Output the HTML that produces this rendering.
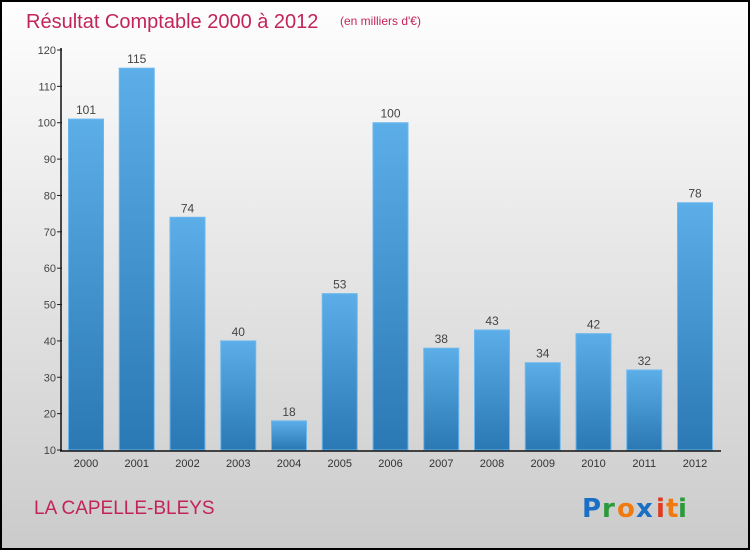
<!DOCTYPE html>
<html><head><meta charset="utf-8"><style>
body{margin:0}
#c{width:750px;height:550px;position:relative;box-sizing:border-box;border:2px solid #000;background:linear-gradient(#fefefe,#cbcbcb);font-family:"Liberation Sans",sans-serif;overflow:hidden}
svg{position:absolute;left:-2px;top:-2px}
</style></head><body>
<div id="c">
<svg width="750" height="550" id="s">
<defs><linearGradient id="g" x1="0" y1="0" x2="0" y2="1"><stop offset="0" stop-color="#5caee8"/><stop offset="1" stop-color="#2a78b4"/></linearGradient></defs>
<text x="26" y="28" font-size="20" fill="#c2245a">Résultat Comptable 2000 à 2012</text>
<text x="340" y="25" font-size="12" fill="#c2245a">(en milliers d'€)</text>
<text x="34" y="514" font-size="19" fill="#c2245a">LA CAPELLE-BLEYS</text>
<g font-size="26" font-weight="bold" font-family="'DejaVu Sans',sans-serif">
<text x="582" y="517" fill="#1a6fc4">P</text><text x="602" y="517" fill="#2a9a3a">r</text><text x="617" y="517" fill="#f07a10">o</text><text x="636" y="517" fill="#1a6fc4">x</text><text x="656" y="517" fill="#e03a20">i</text><text x="666" y="517" fill="#f07a10">t</text><text x="678" y="517" fill="#2a9a3a">i</text>
</g>
</svg>
</div>
<script>
const years=["2000","2001","2002","2003","2004","2005","2006","2007","2008","2009","2010","2011","2012"];
const values=[101,115,74,40,18,53,100,38,43,34,42,32,78];
const yTicks=[10,20,30,40,50,60,70,80,90,100,110,120];
const s=document.getElementById('s');const NS="http://www.w3.org/2000/svg";
const y=v=>450-(v-10)*400/110;
const x=i=>86+i*50.75;
function mk(t,a){const e=document.createElementNS(NS,t);for(const k in a)e.setAttribute(k,a[k]);s.appendChild(e);return e;}
yTicks.forEach(t=>{
 const l=mk('line',{x1:57,x2:62,y1:y(t),y2:y(t),stroke:'#222'});
 
 
 const tx=mk('text',{x:56,y:y(t)+4,'font-size':11,fill:'#444','text-anchor':'end'});tx.textContent=t;
 
 
});
values.forEach((v,i)=>{
 const r=mk('rect',{x:x(i)-17.5,y:y(v),width:35,height:450-y(v),fill:'url(#g)',stroke:'#6cb8ee','stroke-width':1});
 
 
 const t=mk('text',{x:x(i),y:y(v)-5,'font-size':12,fill:'#444','text-anchor':'middle'});t.textContent=v;
 
 
 const yl=mk('text',{x:x(i),y:467,'font-size':11,fill:'#333','text-anchor':'middle'});yl.textContent=years[i];
 
 
});
const ya=mk('line',{x1:61,x2:61,y1:48,y2:451,stroke:'#111','stroke-width':1.5});


const xa=mk('line',{x1:60,x2:721,y1:451,y2:451,stroke:'#111','stroke-width':1.5});


</script>
</body></html>
